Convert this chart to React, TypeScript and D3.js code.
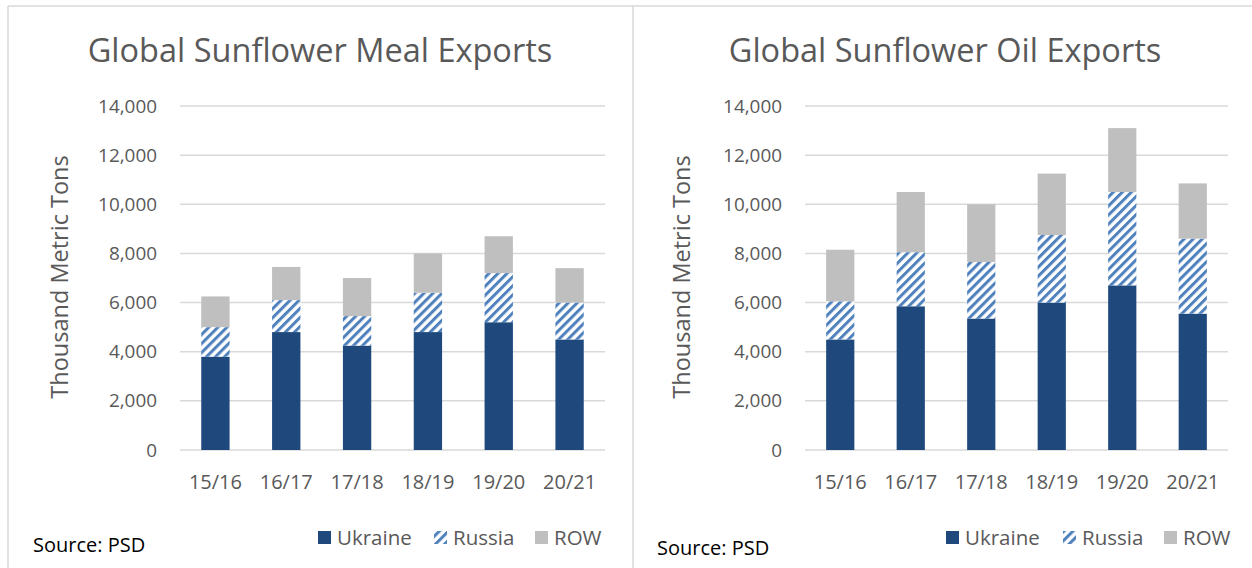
import React from "react";
import * as d3 from "d3";

const categories = ["15/16", "16/17", "17/18", "18/19", "19/20", "20/21"];
const seriesNames = ["Ukraine", "Russia", "ROW"];
const mealUkraine = [3800, 4800, 4250, 4800, 5200, 4500];
const mealRussia = [1200, 1300, 1200, 1600, 2000, 1500];
const mealROW = [1250, 1350, 1550, 1600, 1500, 1400];
const oilUkraine = [4500, 5850, 5350, 6000, 6700, 5550];
const oilRussia = [1550, 2200, 2300, 2750, 3800, 3050];
const oilROW = [2100, 2450, 2350, 2500, 2600, 2250];
const yTicks = [0, 2000, 4000, 6000, 8000, 10000, 12000, 14000];

const FONT = "'Open Sans', sans-serif";
const TEXT = "#595959";
const COLORS = ["#1f497d", "url(#hatch)", "#bfbfbf"];

type PanelProps = {
  title: string;
  ukr: number[];
  rus: number[];
  row: number[];
  axisRight: number;
  plotLeft: number;
  plotRight: number;
  yTitleX: number;
  legendX: number[];
  sourceX: number;
  sourceY: number;
  titleX: number;
};

function Panel(p: PanelProps) {
  const y = d3.scaleLinear().domain([0, 14000]).range([450, 106]);
  const x = d3.scaleBand().domain(categories).range([p.plotLeft, p.plotRight]).paddingInner(0.6).paddingOuter(0.3);
  const rows = categories.map((c, i) => ({ cat: c, Ukraine: p.ukr[i], Russia: p.rus[i], ROW: p.row[i] }));
  const stacked = d3.stack<any>().keys(seriesNames)(rows);
  const fmt = d3.format(",");
  return (
    <g>
      <text x={p.titleX} y={62} textAnchor="middle" fontFamily={FONT} fontSize={32.5} fill={TEXT}>{p.title}</text>
      {yTicks.map((t) => (
        <g key={t}>
          <line x1={p.plotLeft} x2={p.plotRight} y1={y(t)} y2={y(t)} stroke="#d9d9d9" strokeWidth={1.5} />
          <text x={p.axisRight} y={y(t) + 6.5} textAnchor="end" fontFamily={FONT} fontSize={18.9} fill={TEXT}>{fmt(t)}</text>
        </g>
      ))}
      <text transform={`translate(${p.yTitleX},277) rotate(-90)`} textAnchor="middle" fontFamily={FONT} fontSize={23.5} fill={TEXT}>Thousand Metric Tons</text>
      {stacked.map((s, si) => (
        <g key={s.key}>
          {s.map((d, i) => (
            <rect key={i} x={x(categories[i])} width={x.bandwidth()} y={y(d[1])} height={y(d[0]) - y(d[1])} fill={COLORS[si]} />
          ))}
        </g>
      ))}
      {categories.map((c) => (
        <text key={c} x={(x(c) as number) + x.bandwidth() / 2} y={489} textAnchor="middle" fontFamily={FONT} fontSize={20} fill={TEXT}>{c}</text>
      ))}
      {seriesNames.map((n, i) => (
        <g key={n}>
          <rect x={p.legendX[i]} y={531} width={13} height={13} fill={COLORS[i]} />
          <text x={p.legendX[i] + 19} y={545} fontFamily={FONT} fontSize={20.5} fill={TEXT}>{n}</text>
        </g>
      ))}
      <text x={p.sourceX} y={p.sourceY} fontFamily={FONT} fontSize={20} fill="#000">Source: PSD</text>
    </g>
  );
}

export default function App() {
  return (
    <svg width={1252} height={568} style={{ position: "absolute", left: 0, top: 0, background: "#fff" }}>
      <defs>
        <pattern id="hatch" patternUnits="userSpaceOnUse" width={6.4} height={6.4} patternTransform="rotate(45)">
          <rect width={6.4} height={6.4} fill="#fff" />
          <rect width={3} height={6.4} fill="#4f81bd" />
        </pattern>
      </defs>
      <rect x={0} y={0} width={1252} height={568} fill="#fff" />
      <line x1={8} x2={1252} y1={6} y2={6} stroke="#d9d9d9" strokeWidth={1.5} />
      <line x1={8} x2={8} y1={6} y2={568} stroke="#d9d9d9" strokeWidth={1.5} />
      <line x1={633} x2={633} y1={6} y2={568} stroke="#d9d9d9" strokeWidth={1.5} />
      <Panel title="Global Sunflower Meal Exports" ukr={mealUkraine} rus={mealRussia} row={mealROW}
        axisRight={157} plotLeft={180} plotRight={605} yTitleX={68} legendX={[318, 434, 535]}
        sourceX={33} sourceY={552} titleX={320} />
      <Panel title="Global Sunflower Oil Exports" ukr={oilUkraine} rus={oilRussia} row={oilROW}
        axisRight={782} plotLeft={805} plotRight={1228} yTitleX={690} legendX={[946, 1063, 1164]}
        sourceX={657} sourceY={555} titleX={945} />
    </svg>
  );
}
